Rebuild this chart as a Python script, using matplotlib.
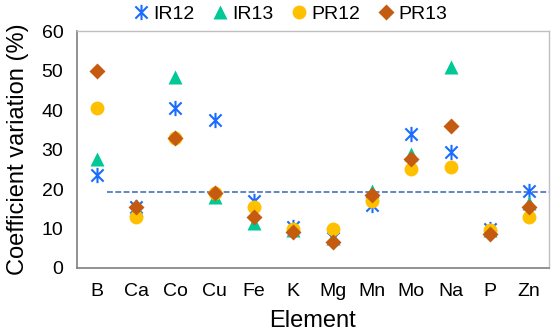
import matplotlib
matplotlib.use("Agg")
import matplotlib.pyplot as plt
from matplotlib.path import Path
import numpy as np

plt.rcParams['font.family'] = ['Liberation Sans', 'DejaVu Sans']

elements = ["B", "Ca", "Co", "Cu", "Fe", "K", "Mg", "Mn", "Mo", "Na", "P", "Zn"]
ir12 = [23.5, 15.5, 40.5, 37.5, 17, 10.5, 7.5, 16, 34, 29.5, 10, 19.5]
ir13 = [27.5, 15, 48.5, 18, 11.5, 9.5, 7.5, 19.5, 29, 51, 9.5, 16.5]
pr12 = [40.5, 13, 33, 19, 15.5, 10, 10, 17, 25, 25.5, 9.5, 13]
pr13 = [50, 15.5, 33, 19, 13, 9, 6.5, 18.5, 27.5, 36, 8.5, 15.5]
ref_level = 19.3

# asterisk marker: X plus vertical bar
verts = [(-1, -1), (1, 1), (-1, 1), (1, -1), (0, -1.25), (0, 1.25)]
codes = [Path.MOVETO, Path.LINETO, Path.MOVETO, Path.LINETO, Path.MOVETO, Path.LINETO]
star = Path(verts, codes)

fig = plt.figure(figsize=(5.51, 3.35), dpi=100)
ax = fig.add_axes([0.14, 0.2, 0.856, 0.707])
x = np.arange(len(elements))

ax.plot([0.27, 11.5], [ref_level, ref_level], ls=(0, (3.5, 1.5)), color='#4472C4', lw=1.2, zorder=1)

ax.plot(x, ir12, ls='none', marker=star, ms=11, mew=1.5, mec='#1A6CFF', mfc='none', label='IR12', zorder=3)
ax.plot(x, ir13, ls='none', marker='^', ms=10.5, color='#00C896', mec='none', label='IR13', zorder=4)
ax.plot(x, pr12, ls='none', marker='o', ms=10, color='#FFC000', mec='none', label='PR12', zorder=5)
ax.plot(x, pr13, ls='none', marker='D', ms=8.5, color='#C55A11', mec='none', label='PR13', zorder=6)

ax.set_xlim(-0.5, 11.5)
ax.set_ylim(0, 60)
ax.set_yticks(range(0, 61, 10))
ax.set_xticks(x)
ax.set_xticklabels(elements)
ax.tick_params(axis='y', length=0, labelsize=14, pad=10)
ax.tick_params(axis='x', length=0, labelsize=14, pad=11)
for s in ['left', 'bottom']:
    ax.spines[s].set_color('#7F7F7F')
    ax.spines[s].set_linewidth(1.2)
for s in ['top', 'right']:
    ax.spines[s].set_color('#BFBFBF')
    ax.spines[s].set_linewidth(1.0)

ax.set_ylabel('Coefficient variation (%)', fontsize=17, labelpad=9)
ax.set_xlabel('Element', fontsize=17, labelpad=7)

fig.legend(*ax.get_legend_handles_labels(), loc='center', bbox_to_anchor=(0.523, 0.958), ncol=4, frameon=False,
           fontsize=14, handletextpad=0.05, columnspacing=0.7, handlelength=1.2,
           borderaxespad=0, borderpad=0)

fig.savefig('out.png', dpi=100)
